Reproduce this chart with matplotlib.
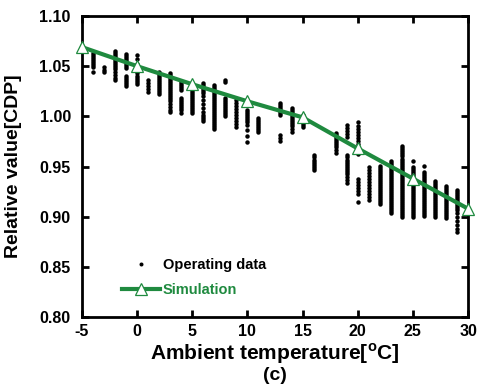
import matplotlib
matplotlib.use('agg')
from matplotlib import pyplot
from matplotlib import rcParams

rcParams['font.family'] = ['Liberation Sans', 'DejaVu Sans']
rcParams['font.weight'] = 'bold'
rcParams['axes.unicode_minus'] = False
rcParams['mathtext.fontset'] = 'custom'
rcParams['mathtext.rm'] = 'Liberation Sans:bold'
rcParams['mathtext.bf'] = 'Liberation Sans:bold'

# simulation curve
sim_temp = [-5, 0, 5, 10, 15, 20, 25, 30]
sim_value = [1.069, 1.050, 1.032, 1.015, 0.999, 0.968, 0.938, 0.908]

# operating data, one column of readings per ambient temperature
op_temp = [-4, -3, -2, -1, 0, 1, 2, 3, 4, 5, 6, 7, 8, 9, 10, 11, 13, 14, 15,
           16, 18, 19, 20, 21, 22, 23, 24, 25, 26, 27, 28, 29]
op_value = [
  [1.063, 1.061, 1.059, 1.057, 1.055, 1.053, 1.051, 1.049, 1.044],
  [1.049, 1.046, 1.044],
  [1.065, 1.063, 1.061, 1.059, 1.057, 1.055, 1.053, 1.051, 1.049, 1.047, 1.044, 1.041, 1.038, 1.036],
  [1.062, 1.060, 1.058, 1.056, 1.054, 1.052, 1.050, 1.048, 1.040, 1.038, 1.036, 1.034, 1.032, 1.030],
  [1.061, 1.057, 1.052, 1.049, 1.046, 1.043, 1.040, 1.038, 1.036, 1.034, 1.032],
  [1.036, 1.033, 1.030, 1.027, 1.024],
  [1.044, 1.042, 1.040, 1.038, 1.036, 1.034, 1.032, 1.030, 1.028, 1.026, 1.024, 1.022],
  [1.043, 1.041, 1.039, 1.037, 1.035, 1.033, 1.031, 1.029, 1.027, 1.025, 1.023, 1.021, 1.019,
   1.017, 1.015, 1.012, 1.009, 1.006, 1.004],
  [1.034, 1.032, 1.030, 1.028, 1.026, 1.018, 1.016, 1.014, 1.012, 1.010, 1.008, 1.006, 1.003],
  [1.033, 1.031, 1.029, 1.027, 1.025, 1.023, 1.021, 1.019, 1.017, 1.015, 1.013, 1.011, 1.009,
   1.007, 1.005, 1.003],
  [1.033, 1.031, 1.029, 1.027, 1.025, 1.023, 1.020, 1.016, 1.012, 1.008, 1.004, 1.001, 0.999,
   0.997, 0.995],
  [1.031, 1.029, 1.027, 1.025, 1.023, 1.021, 1.019, 1.017, 1.015, 1.013, 1.011, 1.009, 1.007,
   1.005, 1.003, 1.001, 0.999, 0.997, 0.995, 0.993, 0.991, 0.989, 0.987],
  [1.036, 1.034, 1.018, 1.016, 1.014, 1.012, 1.010, 1.008, 1.006, 1.004, 1.002, 1.000],
  [1.016, 1.013, 1.010, 1.007, 1.004, 1.001, 0.998, 0.995, 0.992, 0.989],
  [1.006, 1.004, 1.002, 1.000, 0.998, 0.996, 0.994, 0.991, 0.986, 0.980, 0.974],
  [0.998, 0.996, 0.994, 0.992, 0.990, 0.988, 0.986, 0.984],
  [1.013, 1.011, 1.009, 1.007, 1.005, 1.003, 1.001, 0.981, 0.978, 0.975],
  [1.008, 1.006, 1.004, 1.002, 1.000, 0.998, 0.996, 0.994, 0.992, 0.990, 0.987, 0.984],
  [1.001, 0.999, 0.997, 0.995, 0.993, 0.991, 0.989],
  [0.961, 0.959, 0.957, 0.955, 0.953, 0.951, 0.949, 0.947],
  [0.983, 0.981, 0.979, 0.977, 0.975, 0.973, 0.971, 0.969, 0.966, 0.963],
  [0.991, 0.988, 0.985, 0.982, 0.979, 0.961, 0.959, 0.957, 0.955, 0.953, 0.951, 0.949, 0.947,
   0.945, 0.943, 0.940, 0.937, 0.934],
  [0.994, 0.990, 0.987, 0.984, 0.981, 0.978, 0.975, 0.972, 0.969, 0.962, 0.938, 0.935, 0.932,
   0.929, 0.926, 0.923, 0.915],
  [0.950, 0.947, 0.944, 0.941, 0.938, 0.935, 0.932, 0.929, 0.926, 0.923, 0.920, 0.917],
  [0.951, 0.949, 0.947, 0.945, 0.943, 0.941, 0.939, 0.937, 0.935, 0.933, 0.931, 0.929, 0.927,
   0.925, 0.923, 0.921, 0.919, 0.917, 0.915, 0.913],
  [0.956, 0.954, 0.952, 0.950, 0.948, 0.946, 0.944, 0.942, 0.940, 0.938, 0.936, 0.934, 0.932,
   0.930, 0.928, 0.926, 0.924, 0.922, 0.920, 0.918, 0.916, 0.914, 0.912, 0.910, 0.908, 0.906, 0.904],
  [0.970, 0.968, 0.966, 0.964, 0.962, 0.960, 0.958, 0.956, 0.954, 0.952, 0.950, 0.948, 0.946,
   0.944, 0.942, 0.940, 0.938, 0.936, 0.934, 0.932, 0.930, 0.928, 0.926, 0.924, 0.922, 0.920,
   0.918, 0.916, 0.914, 0.912, 0.910, 0.908, 0.906, 0.904, 0.902, 0.900],
  [0.956, 0.950, 0.948, 0.946, 0.944, 0.942, 0.940, 0.938, 0.936, 0.934, 0.932, 0.930, 0.928,
   0.926, 0.924, 0.922, 0.920, 0.918, 0.916, 0.914, 0.912, 0.910, 0.908, 0.906, 0.904, 0.902, 0.900],
  [0.951, 0.945, 0.943, 0.941, 0.939, 0.937, 0.935, 0.933, 0.931, 0.929, 0.927, 0.925, 0.923,
   0.921, 0.919, 0.917, 0.915, 0.913, 0.911, 0.909, 0.907, 0.905, 0.903, 0.901],
  [0.936, 0.934, 0.932, 0.930, 0.928, 0.926, 0.924, 0.922, 0.920, 0.918, 0.916, 0.914, 0.912,
   0.910, 0.908, 0.906, 0.904, 0.902, 0.900],
  [0.931, 0.929, 0.927, 0.925, 0.923, 0.921, 0.919, 0.917, 0.915, 0.913, 0.911, 0.909, 0.907,
   0.905, 0.903, 0.901, 0.899],
  [0.927, 0.925, 0.923, 0.921, 0.919, 0.917, 0.915, 0.913, 0.911, 0.909, 0.907, 0.904, 0.900,
   0.896, 0.892, 0.888, 0.885],
]

x_ticks = [-5, 0, 5, 10, 15, 20, 25, 30]
y_ticks = [0.80, 0.85, 0.90, 0.95, 1.00, 1.05, 1.10]

green = '#1f8a3f'

fig = pyplot.figure(figsize=(4.82, 3.90), dpi=100)
ax = fig.add_axes([0.170, 0.187, 0.801, 0.772])

xs = []
ys = []
for t, vals in zip(op_temp, op_value):
  xs.extend([t] * len(vals))
  ys.extend(vals)
ax.plot(xs, ys, linestyle='none', marker='o', markersize=3.2, color='black',
        markeredgewidth=0, label='Operating data')

ax.plot(sim_temp, sim_value, color=green, linewidth=3.0, marker='^', markersize=9,
        markerfacecolor='white', markeredgecolor=green, markeredgewidth=0.9,
        label='Simulation', clip_on=False, zorder=3)

ax.set_xlim(-5, 30)
ax.set_ylim(0.80, 1.10)
ax.set_xticks(x_ticks)
ax.set_xticklabels([str(t) for t in x_ticks])
ax.set_yticks(y_ticks)
ax.set_yticklabels(['%.2f' % v for v in y_ticks])
ax.tick_params(direction='in', length=5, width=2, top=True, right=True, labelsize=11.5)
ax.tick_params(axis='x', pad=5)
ax.tick_params(axis='y', pad=8)
for s in ax.spines.values():
  s.set_linewidth(2)

ax.set_xlabel(r'Ambient temperature[$^{\mathrm{o}}$C]', fontsize=15, fontweight='bold', labelpad=2)
ax.set_ylabel('Relative value[CDP]', fontsize=14, fontweight='bold')
ax.yaxis.set_label_coords(-0.155, 0.5)

lgd = ax.legend(loc='lower left', bbox_to_anchor=(0.07, 0.024), frameon=False,
                fontsize=10.5, handlelength=2.6, handletextpad=0.2, labelspacing=0.75,
                markerscale=0.9)
lgd.get_texts()[1].set_color(green)

fig.text(0.571, 0.036, '(c)', ha='center', va='center', fontsize=14, fontweight='bold')

fig.savefig('out.png', dpi=100)
pyplot.close(fig)
